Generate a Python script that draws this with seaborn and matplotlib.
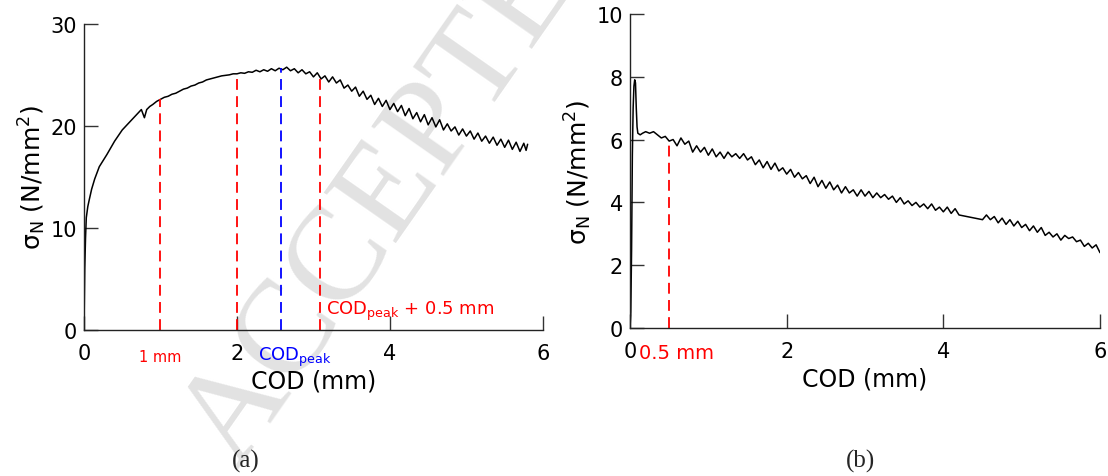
import numpy as np
import pandas as pd
import matplotlib
matplotlib.use("Agg")
import matplotlib.pyplot as plt
import seaborn as sns

# ============================================================
# DATA
# ============================================================

# panel (a): sigma_N vs COD
cod_a = [0, 0.005, 0.01, 0.02, 0.03, 0.05, 0.07, 0.1, 0.14, 0.2, 0.25, 0.3, 0.4, 0.5,
         0.6, 0.7, 0.75, 0.77, 0.79, 0.82, 0.86, 0.9, 0.95, 1.0,
         1.05, 1.1, 1.15, 1.2, 1.25, 1.3, 1.35, 1.4, 1.45, 1.5, 1.55, 1.6, 1.65, 1.7,
         1.75, 1.8, 1.85, 1.9, 1.95, 2.0,
         2.05, 2.1, 2.15, 2.2, 2.25, 2.3, 2.35, 2.4, 2.45, 2.5, 2.55, 2.6, 2.65, 2.7,
         2.75, 2.8, 2.85, 2.9, 2.95, 3.0, 3.05, 3.1, 3.15, 3.2, 3.25, 3.3, 3.35, 3.4,
         3.45, 3.5, 3.55, 3.6, 3.65, 3.7, 3.75, 3.8, 3.85, 3.9, 3.95, 4.0, 4.05, 4.1,
         4.15, 4.2, 4.25, 4.3, 4.35, 4.4, 4.45, 4.5, 4.55, 4.6, 4.65, 4.7, 4.75, 4.8,
         4.85, 4.9, 4.95, 5.0, 5.05, 5.1, 5.15, 5.2, 5.25, 5.3, 5.35, 5.4, 5.45, 5.5,
         5.55, 5.6, 5.65, 5.7, 5.75, 5.78, 5.8]
sig_a = [0, 3, 6, 9, 11, 12.1, 12.8, 13.8, 14.8, 16.0, 16.6, 17.2, 18.5, 19.6,
         20.4, 21.2, 21.6, 21.2, 20.8, 21.6, 21.9, 22.1, 22.4, 22.6,
         22.8, 22.9, 23.1, 23.2, 23.4, 23.6, 23.7, 23.9, 24.0, 24.2, 24.3, 24.5, 24.6, 24.7,
         24.8, 24.9, 24.95, 25.0, 25.1, 25.1,
         25.2, 25.15, 25.3, 25.25, 25.45, 25.3, 25.5, 25.35, 25.6, 25.4, 25.65, 25.5, 25.75, 25.4,
         25.6, 25.2, 25.5, 25.1, 25.3, 24.8, 25.2, 24.6, 24.9, 24.3, 24.8, 24.2, 24.5, 23.7,
         24.0, 23.4, 23.8, 22.9, 23.4, 22.6, 23.0, 22.1, 22.7, 21.9, 22.5, 21.6, 22.2, 21.4,
         22.0, 21.0, 21.7, 20.7, 21.3, 20.4, 21.1, 20.1, 20.8, 19.9, 20.6, 19.6, 20.2, 19.5,
         19.9, 19.1, 19.7, 19.0, 19.5, 18.7, 19.3, 18.5, 19.0, 18.3, 18.9, 18.1, 18.7, 17.9,
         18.6, 17.7, 18.4, 17.5, 18.3, 17.6, 18.2]

# marker lines in (a): 1 mm, 2 mm, COD_peak + 0.5 mm (red), COD_peak (blue)
mark_a_red_x = [1.0, 2.0, 3.08]
mark_a_red_top = [22.6, 24.95, 24.7]
mark_a_blue_x = [2.58]
mark_a_blue_top = [25.7]

# panel (b)
cod_b = [0, 0.01, 0.02, 0.03, 0.04, 0.05, 0.06, 0.07, 0.08, 0.09, 0.1, 0.13, 0.16, 0.2,
         0.25, 0.3, 0.35, 0.4, 0.45, 0.5, 0.55, 0.6, 0.65, 0.7, 0.75, 0.8, 0.85, 0.9,
         0.95, 1.0, 1.05, 1.1, 1.15, 1.2, 1.25, 1.3, 1.35, 1.4, 1.45, 1.5, 1.55, 1.6,
         1.65, 1.7, 1.75, 1.8, 1.85, 1.9, 1.95, 2.0, 2.05, 2.1, 2.15, 2.2, 2.25, 2.3,
         2.35, 2.4, 2.45, 2.5, 2.55, 2.6, 2.65, 2.7, 2.75, 2.8, 2.85, 2.9, 2.95, 3.0,
         3.05, 3.1, 3.15, 3.2, 3.25, 3.3, 3.35, 3.4, 3.45, 3.5, 3.55, 3.6, 3.65, 3.7,
         3.75, 3.8, 3.85, 3.9, 3.95, 4.0, 4.05, 4.1, 4.15, 4.2, 4.3, 4.4, 4.5, 4.55,
         4.6, 4.65, 4.7, 4.75, 4.8, 4.85, 4.9, 4.95, 5.0, 5.05, 5.1, 5.15, 5.2, 5.25,
         5.3, 5.35, 5.4, 5.45, 5.5, 5.55, 5.6, 5.65, 5.7, 5.75, 5.8, 5.85, 5.9, 5.95, 6.0]
sig_b = [0, 0.5, 2.5, 5.5, 7.0, 7.7, 7.9, 7.8, 7.0, 6.4, 6.2, 6.15, 6.2, 6.25,
         6.2, 6.25, 6.15, 6.05, 6.1, 5.95, 6.0, 5.8, 6.05, 5.85, 5.95, 5.6, 5.8, 5.6,
         5.75, 5.5, 5.7, 5.45, 5.6, 5.4, 5.6, 5.45, 5.55, 5.4, 5.55, 5.35, 5.45, 5.2,
         5.35, 5.1, 5.3, 5.05, 5.25, 5.0, 5.1, 4.9, 5.05, 4.8, 4.95, 4.75, 4.85, 4.6,
         4.8, 4.5, 4.7, 4.45, 4.65, 4.4, 4.55, 4.3, 4.5, 4.3, 4.4, 4.2, 4.4, 4.2,
         4.35, 4.15, 4.3, 4.15, 4.25, 4.1, 4.2, 4.0, 4.15, 3.95, 4.05, 3.9, 4.0, 3.85,
         3.95, 3.8, 3.95, 3.75, 3.85, 3.7, 3.85, 3.65, 3.8, 3.6, 3.55, 3.5, 3.45, 3.6,
         3.45, 3.55, 3.35, 3.5, 3.3, 3.45, 3.25, 3.4, 3.2, 3.3, 3.1, 3.25, 3.05, 3.2,
         2.95, 3.05, 2.9, 3.0, 2.8, 2.95, 2.85, 2.9, 2.75, 2.8, 2.6, 2.7, 2.55, 2.65, 2.4]

mark_b_x = [0.5]
mark_b_top = [5.95]

xticks = [0, 2, 4, 6]
yticks_a = [0, 10, 20, 30]
yticks_b = [0, 2, 4, 6, 8, 10]

# ============================================================
# FIGURE
# ============================================================
sns.set_style("white")
plt.rcParams['font.family'] = ['DejaVu Sans']

fig = plt.figure(figsize=(11.08, 4.77), dpi=100)

# watermark behind everything
fig.text(0.145, -0.02, "ACCEPTED MANUSCRIPT", rotation=55, fontsize=96,
         family='Liberation Serif', color='#e2e2e2', ha='left', va='bottom', zorder=-5)

ax1 = fig.add_axes([0.0758, 0.306, 0.4142, 0.642])
ax2 = fig.add_axes([0.5686, 0.310, 0.4242, 0.659])

ylabel = r'$\mathregular{\sigma_N}$ (N/mm$\mathregular{^2}$)'
dash = (0, (6, 3.5))

for ax, yt in [(ax1, yticks_a), (ax2, yticks_b)]:
    ax.patch.set_alpha(0)
    for s in ['top', 'right']:
        ax.spines[s].set_visible(False)
    for s in ['left', 'bottom']:
        ax.spines[s].set_color('#222222')
        ax.spines[s].set_linewidth(1.0)
    ax.set_xlim(0, 6)
    ax.set_ylim(yt[0], yt[-1])
    ax.set_xticks(xticks)
    ax.set_yticks(yt)
    ax.tick_params(direction='in', length=10, width=1, color='#333333',
                   labelsize=15, labelcolor='black', bottom=True, left=True)
    ax.tick_params(axis='x', pad=9)
    ax.tick_params(axis='y', pad=5)
    ax.set_xlabel('COD (mm)', fontsize=17, color='black', labelpad=4)
    ax.set_ylabel(ylabel, fontsize=18, color='black', labelpad=2)

# panel (a)
sns.lineplot(x=cod_a, y=sig_a, ax=ax1, color='black', lw=1.1, estimator=None, sort=False)
ax1.vlines(mark_a_red_x, 0, mark_a_red_top, colors='red', linestyles=dash, lw=1.3)
ax1.vlines(mark_a_blue_x, 0, mark_a_blue_top, colors='blue', linestyles=dash, lw=1.3)
ax1.text(3.16, 1.9, r'COD$_{\mathregular{peak}}$ + 0.5 mm', color='red', fontsize=13,
         ha='left', va='center')
ax1.text(1.0, -0.063, '1 mm', color='red', fontsize=10.5, ha='center', va='top',
         transform=ax1.get_xaxis_transform())
ax1.text(2.28, -0.048, r'COD$_{\mathregular{peak}}$', color='blue', fontsize=13,
         ha='left', va='top', transform=ax1.get_xaxis_transform())

# panel (b)
sns.lineplot(x=cod_b, y=sig_b, ax=ax2, color='black', lw=1.1, estimator=None, sort=False)
ax2.vlines(mark_b_x, 0, mark_b_top, colors='red', linestyles=dash, lw=1.3)
ax2.text(0.12, -0.048, '0.5 mm', color='red', fontsize=14, ha='left', va='top',
         transform=ax2.get_xaxis_transform())

fig.text(0.222, 0.02, '(a)', fontsize=18, family='Liberation Serif', ha='center')
fig.text(0.777, 0.02, '(b)', fontsize=18, family='Liberation Serif', ha='center')

fig.savefig('out.png', dpi=100)
